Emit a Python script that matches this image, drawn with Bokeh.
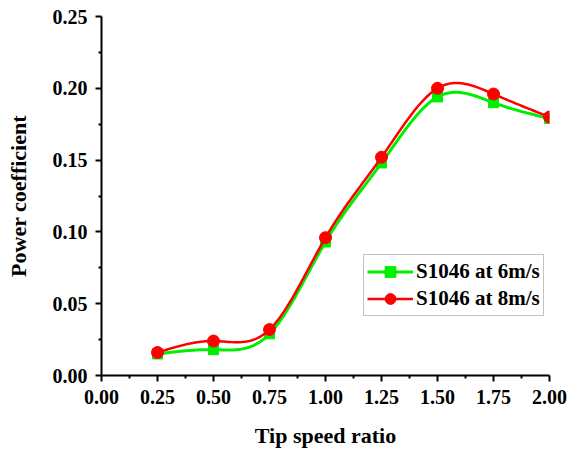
import numpy as np
from bokeh.plotting import figure
from bokeh.models import Range1d, FixedTicker, Legend, LegendItem, NumeralTickFormatter
from bokeh.embed import file_html
from bokeh.resources import INLINE

tsr = [0.25, 0.50, 0.75, 1.00, 1.25, 1.50, 1.75, 2.00]
cp_6 = [0.015, 0.018, 0.029, 0.093, 0.148, 0.194, 0.190, 0.179]
cp_8 = [0.016, 0.024, 0.032, 0.096, 0.152, 0.200, 0.196, 0.180]
x_ticks = [0.0, 0.25, 0.5, 0.75, 1.0, 1.25, 1.5, 1.75, 2.0]
y_ticks = [0.0, 0.05, 0.10, 0.15, 0.20, 0.25]
series_names = ["S1046 at 6m/s", "S1046 at 8m/s"]


def natural_spline(xs, ys, n=300):
    xs = np.asarray(xs, float)
    ys = np.asarray(ys, float)
    k = len(xs)
    h = np.diff(xs)
    A = np.zeros((k, k))
    b = np.zeros(k)
    A[0, 0] = 1
    A[-1, -1] = 1
    for i in range(1, k - 1):
        A[i, i - 1] = h[i - 1]
        A[i, i] = 2 * (h[i - 1] + h[i])
        A[i, i + 1] = h[i]
        b[i] = 6 * ((ys[i + 1] - ys[i]) / h[i] - (ys[i] - ys[i - 1]) / h[i - 1])
    M = np.linalg.solve(A, b)
    xf = np.linspace(xs[0], xs[-1], n)
    yf = np.zeros_like(xf)
    for j, x in enumerate(xf):
        i = min(np.searchsorted(xs, x, side="right") - 1, k - 2)
        t1 = xs[i + 1] - x
        t0 = x - xs[i]
        yf[j] = (M[i] * t1 ** 3 / (6 * h[i]) + M[i + 1] * t0 ** 3 / (6 * h[i])
                 + (ys[i] / h[i] - M[i] * h[i] / 6) * t1
                 + (ys[i + 1] / h[i] - M[i + 1] * h[i] / 6) * t0)
    return xf, yf


p = figure(width=568, height=450, output_backend="svg", toolbar_location=None,
           x_range=Range1d(0, 2), y_range=Range1d(0, 0.25),
           min_border_left=101, min_border_right=19, min_border_top=16, min_border_bottom=74)
p.outline_line_color = None
p.grid.visible = False
p.background_fill_color = "white"
p.border_fill_color = "white"

font = "Liberation Serif"
for ax in (p.xaxis[0], p.yaxis[0]):
    ax.axis_line_width = 2
    ax.axis_line_color = "black"
    ax.major_tick_line_width = 2
    ax.minor_tick_line_width = 2
    ax.major_tick_out = 6
    ax.major_tick_in = 0
    ax.minor_tick_out = 3
    ax.minor_tick_in = 0
    ax.major_label_text_font = font
    ax.major_label_text_font_style = "bold"
    ax.major_label_text_font_size = "20px"
    ax.major_label_text_color = "black"
    ax.axis_label_text_font = font
    ax.axis_label_text_font_style = "bold"
    ax.axis_label_text_font_size = "22px"
    ax.axis_label_text_color = "black"
    ax.formatter = NumeralTickFormatter(format="0.00")

p.xaxis.ticker = FixedTicker(ticks=x_ticks, minor_ticks=[v + 0.125 for v in x_ticks[:-1]])
p.yaxis.ticker = FixedTicker(ticks=y_ticks, minor_ticks=[v + 0.025 for v in y_ticks[:-1]])
p.xaxis.axis_label = "Tip speed ratio"
p.yaxis.axis_label = "Power coefficient"
p.xaxis.axis_label_standoff = 16
p.yaxis.axis_label_standoff = 19
p.xaxis.major_label_standoff = 8
p.yaxis.major_label_standoff = 8

xg, yg = natural_spline(tsr, cp_6)
xr, yr = natural_spline(tsr, cp_8)

lg = p.line(xg, yg, line_color="#00ee00", line_width=3)
mg = p.scatter(tsr, cp_6, marker="square", size=10, fill_color="#00ee00", line_color="#00ee00")
lr = p.line(xr, yr, line_color="#ff0000", line_width=2.5)
mr = p.scatter(tsr, cp_8, marker="circle", size=12, fill_color="#ff0000", line_color="#ff0000")

legend = Legend(items=[LegendItem(label=series_names[0], renderers=[lg, mg]),
                       LegendItem(label=series_names[1], renderers=[lr, mr])],
                location=(262, 59))
legend.label_text_font = font
legend.label_text_font_style = "bold"
legend.label_text_font_size = "21px"
legend.label_text_color = "black"
legend.border_line_color = "#888888"
legend.border_line_width = 1
legend.glyph_width = 46
legend.glyph_height = 27
legend.label_height = 27
legend.spacing = 0
legend.padding = 3
legend.margin = 0
legend.label_standoff = 3
p.add_layout(legend)

open("out.html", "w").write(file_html(p, INLINE))
